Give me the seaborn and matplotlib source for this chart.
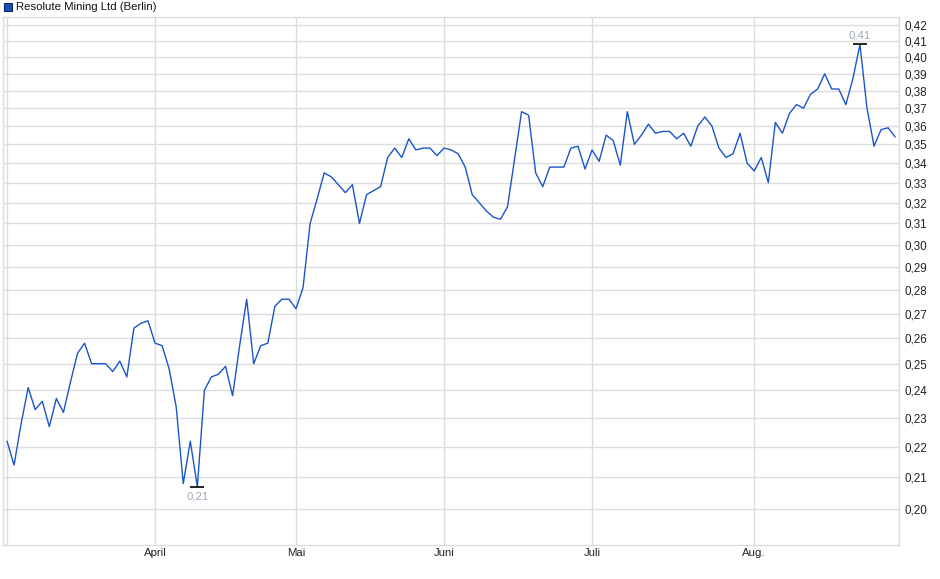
import numpy as np
import pandas as pd
import matplotlib
matplotlib.use('Agg')
import matplotlib.pyplot as plt
import seaborn as sns
from matplotlib.ticker import FixedLocator, FuncFormatter, NullLocator
from matplotlib.patches import Rectangle

# ── Data (trading-day index, Mar 3 – Aug 29) ──────────────────────────────────
prices = [
    0.222, 0.214, 0.228, 0.241, 0.233, 0.236, 0.227, 0.237, 0.232, 0.243,
    0.254, 0.258, 0.250, 0.250, 0.250, 0.247, 0.251, 0.245, 0.264, 0.266,
    0.267, 0.258, 0.257, 0.248, 0.234, 0.208, 0.222, 0.207, 0.240, 0.245,
    0.246, 0.249, 0.238, 0.257, 0.276, 0.250, 0.257, 0.258, 0.273, 0.276,
    0.276, 0.272, 0.281, 0.310, 0.322, 0.335, 0.333, 0.329, 0.325, 0.329,
    0.310, 0.324, 0.326, 0.328, 0.343, 0.348, 0.343, 0.353, 0.347, 0.348,
    0.348, 0.344, 0.348, 0.347, 0.345, 0.338, 0.324, 0.320, 0.316, 0.313,
    0.312, 0.318, 0.342, 0.368, 0.366, 0.335, 0.328, 0.338, 0.338, 0.338,
    0.348, 0.349, 0.337, 0.347, 0.341, 0.355, 0.352, 0.339, 0.368, 0.350,
    0.355, 0.361, 0.356, 0.357, 0.357, 0.353, 0.356, 0.349, 0.360, 0.365,
    0.360, 0.348, 0.343, 0.345, 0.356, 0.340, 0.336, 0.343, 0.330, 0.362,
    0.356, 0.367, 0.372, 0.370, 0.378, 0.381, 0.390, 0.381, 0.381, 0.372,
    0.387, 0.408, 0.370, 0.349, 0.358, 0.359, 0.354,
]
month_pos    = [0, 21, 41, 62, 83, 106]
month_labels = ['', 'April', 'Mai', 'Juni', 'Juli', 'Aug.']
y_ticks      = [0.20, 0.21, 0.22, 0.23, 0.24, 0.25, 0.26, 0.27, 0.28, 0.29, 0.30,
                0.31, 0.32, 0.33, 0.34, 0.35, 0.36, 0.37, 0.38, 0.39, 0.40, 0.41, 0.42]
title = 'Resolute Mining Ltd (Berlin)'

df = pd.DataFrame({'idx': np.arange(len(prices)), 'price': prices})

# ── Style ─────────────────────────────────────────────────────────────────────
sns.set_style('white')
plt.rcParams['font.family'] = ['Liberation Sans', 'DejaVu Sans']

LINE_COLOR = '#1a55c8'
GRID_COLOR = '#dcdcdc'

fig = plt.figure(figsize=(9.4, 5.79), dpi=100)
ax = fig.add_axes([3 / 940, 34 / 579, 895.7 / 940, 528 / 579])

sns.lineplot(data=df, x='idx', y='price', ax=ax, color=LINE_COLOR, linewidth=1.0)

ax.set_yscale('log')
ax.set_ylim(0.1893, 0.4255)
ax.set_xlim(-0.57, 126.5)

ax.yaxis.set_major_locator(FixedLocator(y_ticks))
ax.yaxis.set_minor_locator(NullLocator())
ax.yaxis.set_major_formatter(FuncFormatter(lambda v, p: f'{v:.2f}'.replace('.', ',')))
ax.yaxis.tick_right()
ax.set_xticks(month_pos)
ax.set_xticklabels(month_labels)

ax.tick_params(axis='y', length=0, pad=4, labelsize=8.4, colors='#222222')
ax.tick_params(axis='x', length=2, width=0.8, color=GRID_COLOR, pad=0.5, labelsize=8.2,
               labelcolor='#222222', direction='out')
ax.set_xlabel('')
ax.set_ylabel('')

ax.grid(True, color=GRID_COLOR, linewidth=1.0)
ax.set_axisbelow(True)
for s in ax.spines.values():
    s.set_color(GRID_COLOR)
    s.set_linewidth(1.0)

# ── Max / min markers ─────────────────────────────────────────────────────────
i_max = int(np.argmax(prices))
i_min = int(np.argmin(prices))
ax.plot([i_max], [prices[i_max]], marker='_', markersize=10, color='black', mew=1.2)
ax.plot([i_min], [prices[i_min]], marker='_', markersize=10, color='black', mew=1.2)
ax.annotate(f'{prices[i_max]:.2f}'.replace('.', ','), (i_max, prices[i_max]),
            xytext=(0, 2.5), textcoords='offset points', ha='center', va='bottom',
            fontsize=8.2, color='#a0a8b8')
ax.annotate(f'{prices[i_min]:.2f}'.replace('.', ','), (i_min, prices[i_min]),
            xytext=(0, -3.5), textcoords='offset points', ha='center', va='top',
            fontsize=8.2, color='#a0a8b8')

# ── Legend-style title ────────────────────────────────────────────────────────
fig.patches.append(Rectangle((4 / 940, 1 - 11 / 579), 8 / 940, 8 / 579,
                             transform=fig.transFigure, facecolor='#1a4fb5',
                             edgecolor='#0d2a66', linewidth=0.8))
fig.text(16 / 940, 1 - 7 / 579, title, ha='left', va='center', fontsize=8.2,
         color='#111111')

fig.savefig('out.png', dpi=100, facecolor='white')
